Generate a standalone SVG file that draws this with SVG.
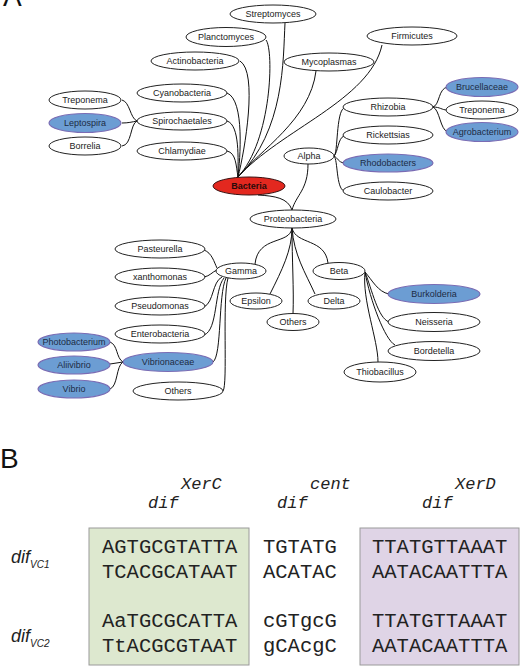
<svg xmlns="http://www.w3.org/2000/svg" width="525" height="670" viewBox="0 0 525 670">
<style>
.n ellipse{fill:#fff;stroke:#222;stroke-width:1}
.n.b ellipse{fill:#6c9dd3;stroke:#7a6cb4;stroke-width:1.2}
.n.r ellipse{fill:#e3281f;stroke:#3a1010;stroke-width:1}
.n text{font-family:"Liberation Sans",Arial,sans-serif;font-size:9px;fill:#222;text-anchor:middle}
.n.b text{fill:#1c2c44}
.n.r text{font-weight:bold;fill:#2a0a0a}
#edges path{fill:none;stroke:#111;stroke-width:1}
.big{font-family:"Liberation Sans",Arial,sans-serif;font-size:28px;fill:#111}
.hdr{font-family:"Liberation Mono","Courier New",monospace;font-style:italic;font-size:17px;fill:#222}
.seq{font-family:"Liberation Mono","Courier New",monospace;font-size:20.5px;fill:#222}
.lab{font-family:"Liberation Sans",Arial,sans-serif;font-style:italic;font-size:18px;fill:#222}
.sub{font-size:10px}
</style>
<rect width="525" height="670" fill="#fff"/>
<text class="big" x="3" y="6">A</text>
<g id="edges">
<path d="M227,151 C236,153 236,165 238,177"/>
<path d="M227,121 C240,125 238,160 238,177"/>
<path d="M227,93 C245,100 240,160 238,177"/>
<path d="M240,61 C258,72 245,150 238,177"/>
<path d="M266,40 C274,50 272,140 238,177"/>
<path d="M285,23 C283,60 285,130 238,177"/>
<path d="M316,71 C310,120 260,150 238,177"/>
<path d="M382,45 C370,100 280,130 238,177"/>
<path d="M258,195 C275,196 288,198 292,210"/>
<path d="M308,164 C308,190 296,195 292,210"/>
<path d="M334,156 C338,154 336,112 344,108"/>
<path d="M334,156 C338,152 338,138 344,136"/>
<path d="M334,156 C338,158 338,162 344,163"/>
<path d="M334,156 C338,160 336,188 344,191"/>
<path d="M433,107 C440,105 438,88 448,87"/>
<path d="M433,107 C440,107 442,110 447,110"/>
<path d="M433,107 C440,110 440,130 448,132"/>
<path d="M137,121 C130,118 130,102 122,100"/>
<path d="M137,121 C132,122 128,123 122,123"/>
<path d="M137,121 C130,124 132,145 122,146"/>
<path d="M292,228 C290,245 258,235 255,264"/>
<path d="M292,228 C292,250 282,270 270,294"/>
<path d="M292,228 C292,260 294,290 293,314"/>
<path d="M292,228 C294,255 305,272 315,294"/>
<path d="M292,228 C296,245 325,238 328,263"/>
<path d="M204,250 C212,253 214,262 217,268"/>
<path d="M204,277 C210,276 212,272 217,270"/>
<path d="M222,277 C212,282 214,302 204,307"/>
<path d="M224,278 C214,290 218,330 204,335"/>
<path d="M226,278 C218,295 222,355 213,362"/>
<path d="M228,278 C222,300 228,385 223,391"/>
<path d="M123,362 C116,358 118,345 110,342"/>
<path d="M123,362 L110,364"/>
<path d="M123,362 C116,366 118,386 110,389"/>
<path d="M365,272 C372,280 378,292 389,294"/>
<path d="M365,272 C372,290 378,318 389,322"/>
<path d="M365,272 C370,300 385,340 395,345"/>
<path d="M365,272 C362,300 378,340 378,362"/>
</g>
<g id="streptomyces" class="n"><ellipse cx="273" cy="14" rx="43" ry="9"/><text x="273" y="17">Streptomyces</text></g>
<g id="planctomyces" class="n"><ellipse cx="226" cy="37" rx="40" ry="9.5"/><text x="226" y="40">Planctomyces</text></g>
<g id="actinobacteria" class="n"><ellipse cx="195" cy="61" rx="44" ry="9"/><text x="195" y="64">Actinobacteria</text></g>
<g id="mycoplasmas" class="n"><ellipse cx="329" cy="62" rx="45" ry="9"/><text x="329" y="65">Mycoplasmas</text></g>
<g id="firmicutes" class="n"><ellipse cx="412" cy="36" rx="45" ry="9"/><text x="412" y="39">Firmicutes</text></g>
<g id="cyanobacteria" class="n"><ellipse cx="182" cy="93" rx="45" ry="9"/><text x="182" y="96">Cyanobacteria</text></g>
<g id="spirochaetales" class="n"><ellipse cx="182" cy="121" rx="45" ry="9"/><text x="182" y="124">Spirochaetales</text></g>
<g id="chlamydiae" class="n"><ellipse cx="182" cy="151" rx="45" ry="9"/><text x="182" y="154">Chlamydiae</text></g>
<g id="treponema1" class="n"><ellipse cx="85" cy="100" rx="36" ry="9"/><text x="85" y="103">Treponema</text></g>
<g id="leptospira" class="n b"><ellipse cx="85" cy="123" rx="36" ry="9.5"/><text x="85" y="126">Leptospira</text></g>
<g id="borrelia" class="n"><ellipse cx="85" cy="146" rx="36" ry="9"/><text x="85" y="149">Borrelia</text></g>
<g id="bacteria" class="n r"><ellipse cx="249" cy="186" rx="36" ry="9"/><text x="249" y="189">Bacteria</text></g>
<g id="alpha" class="n"><ellipse cx="309" cy="156" rx="25" ry="8"/><text x="309" y="159">Alpha</text></g>
<g id="rhizobia" class="n"><ellipse cx="388" cy="107" rx="45" ry="9"/><text x="388" y="110">Rhizobia</text></g>
<g id="rickettsias" class="n"><ellipse cx="388" cy="135" rx="45" ry="9"/><text x="388" y="138">Rickettsias</text></g>
<g id="rhodobacters" class="n b"><ellipse cx="388" cy="163" rx="45" ry="9"/><text x="388" y="166">Rhodobacters</text></g>
<g id="caulobacter" class="n"><ellipse cx="388" cy="191" rx="45" ry="9"/><text x="388" y="194">Caulobacter</text></g>
<g id="brucellaceae" class="n b"><ellipse cx="482" cy="87" rx="36" ry="9.5"/><text x="482" y="90">Brucellaceae</text></g>
<g id="treponema2" class="n"><ellipse cx="482" cy="110" rx="36" ry="9"/><text x="482" y="113">Treponema</text></g>
<g id="agrobacterium" class="n b"><ellipse cx="482" cy="132" rx="36" ry="9.5"/><text x="482" y="135">Agrobacterium</text></g>
<g id="proteobacteria" class="n"><ellipse cx="293" cy="219" rx="43" ry="9"/><text x="293" y="222">Proteobacteria</text></g>
<g id="pasteurella" class="n"><ellipse cx="160" cy="249" rx="45" ry="9"/><text x="160" y="252">Pasteurella</text></g>
<g id="xanthomonas" class="n"><ellipse cx="160" cy="277" rx="45" ry="9"/><text x="160" y="280">xanthomonas</text></g>
<g id="pseudomonas" class="n"><ellipse cx="160" cy="306" rx="45" ry="9"/><text x="160" y="309">Pseudomonas</text></g>
<g id="enterobacteria" class="n"><ellipse cx="160" cy="334" rx="45" ry="9"/><text x="160" y="337">Enterobacteria</text></g>
<g id="gamma" class="n"><ellipse cx="241" cy="271" rx="25" ry="8"/><text x="241" y="274">Gamma</text></g>
<g id="vibrionaceae" class="n b"><ellipse cx="168" cy="362" rx="45" ry="9.5"/><text x="168" y="365">Vibrionaceae</text></g>
<g id="photobacterium" class="n b"><ellipse cx="74" cy="342" rx="36" ry="9"/><text x="74" y="345">Photobacterium</text></g>
<g id="aliivibrio" class="n b"><ellipse cx="74" cy="365" rx="36" ry="9"/><text x="74" y="368">Aliivibrio</text></g>
<g id="vibrio" class="n b"><ellipse cx="74" cy="389" rx="36" ry="9"/><text x="74" y="392">Vibrio</text></g>
<g id="others1" class="n"><ellipse cx="178" cy="391" rx="45" ry="9"/><text x="178" y="394">Others</text></g>
<g id="epsilon" class="n"><ellipse cx="256" cy="301" rx="26" ry="8"/><text x="256" y="304">Epsilon</text></g>
<g id="others2" class="n"><ellipse cx="293" cy="322" rx="26" ry="8.5"/><text x="293" y="325">Others</text></g>
<g id="delta" class="n"><ellipse cx="334" cy="301" rx="26" ry="8"/><text x="334" y="304">Delta</text></g>
<g id="beta" class="n"><ellipse cx="339" cy="271" rx="26" ry="8.5"/><text x="339" y="274">Beta</text></g>
<g id="burkolderia" class="n b"><ellipse cx="434" cy="294" rx="46" ry="9.5"/><text x="434" y="297">Burkolderia</text></g>
<g id="neisseria" class="n"><ellipse cx="434" cy="322" rx="46" ry="9.5"/><text x="434" y="325">Neisseria</text></g>
<g id="bordetella" class="n"><ellipse cx="434" cy="351" rx="46" ry="9.5"/><text x="434" y="354">Bordetella</text></g>
<g id="thiobacillus" class="n"><ellipse cx="380" cy="372" rx="36" ry="10"/><text x="380" y="375">Thiobacillus</text></g>
<text class="big" x="0" y="468">B</text>
<rect x="89" y="528" width="160" height="137" fill="#dde8cf" stroke="#9a9a9a" stroke-width="1"/>
<rect x="360" y="528" width="159" height="137" fill="#dfd4e6" stroke="#9a9a9a" stroke-width="1"/>
<text class="hdr" x="181" y="489">XerC</text>
<text class="hdr" x="148" y="508">dif</text>
<text class="hdr" x="310" y="489">cent</text>
<text class="hdr" x="277" y="508">dif</text>
<text class="hdr" x="455" y="489">XerD</text>
<text class="hdr" x="422" y="508">dif</text>
<text class="seq" x="102" y="553">AGTGCGTATTA</text>
<text class="seq" x="102" y="578">TCACGCATAAT</text>
<text class="seq" x="102" y="627">AaTGCGCATTA</text>
<text class="seq" x="102" y="652">TtACGCGTAAT</text>
<text class="seq" x="263" y="553">TGTATG</text>
<text class="seq" x="263" y="578">ACATAC</text>
<text class="seq" x="263" y="627">cGTgcG</text>
<text class="seq" x="263" y="652">gCAcgC</text>
<text class="seq" x="372" y="553">TTATGTTAAAT</text>
<text class="seq" x="372" y="578">AATACAATTTA</text>
<text class="seq" x="372" y="627">TTATGTTAAAT</text>
<text class="seq" x="372" y="652">AATACAATTTA</text>
<text class="lab" x="11" y="563">dif<tspan class="sub" dy="5">VC1</tspan></text>
<text class="lab" x="11" y="642">dif<tspan class="sub" dy="5">VC2</tspan></text>
</svg>
